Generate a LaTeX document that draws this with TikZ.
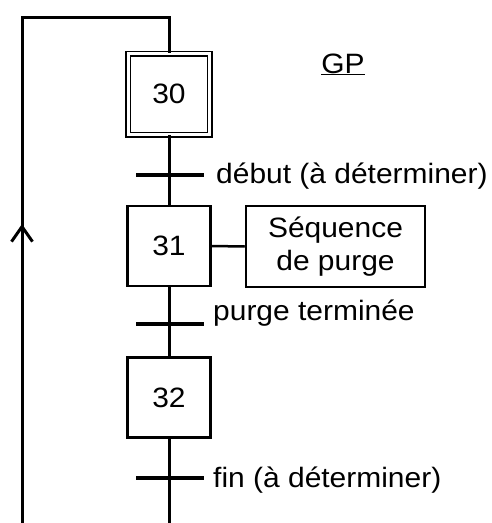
\documentclass[tikz,border=0pt]{standalone}
\usepackage{fontspec}
\setmainfont{Liberation Sans}[FakeStretch=1.07]
\usetikzlibrary{arrows.meta}
\tikzset{
  txt/.style={font=\fontsize{28}{33}\selectfont, inner sep=0pt},
  stepbox/.style={draw, line width=2.5pt, minimum width=83pt, minimum height=80pt, inner sep=0pt, font=\fontsize{28}{33}\selectfont},
  initbox/.style={draw, line width=1.5pt, double, double distance=3pt, minimum width=81.5pt, minimum height=81pt, inner sep=0pt, font=\fontsize{28}{33}\selectfont},
  link/.style={line width=3pt},
  tbar/.style={line width=4pt},
}
\begin{document}
\begin{tikzpicture}[x=1pt,y=-1pt]
\useasboundingbox (0,0) rectangle (491,523);
% steps
\node[initbox] (s30) at (169,94) {30};
\node[stepbox] (s31) at (169,246) {31};
\node[stepbox] (s32) at (169,397.5) {32};
\node[stepbox, minimum width=179pt, minimum height=81pt, align=center] (act) at (335.5,246.5) {Séquence\\de purge};
% title
\node[txt, anchor=base] (gp) at (343,73) {\underline{GP}};
% coordinates
\coordinate (topL) at (22,17);
\coordinate (topR) at (169,17);
\coordinate (botL) at (22,523);
\coordinate (botR) at (169,523);
\coordinate (arr) at (22,224);
\coordinate (t1) at (169,174.5);
\coordinate (t2) at (169,324);
\coordinate (t3) at (169,478);
% main line
\draw[link] (topR) -- (s30.north);
\draw[link] (s30.south) -- (s31.north);
\draw[link] (s31.south) -- (s32.north);
\draw[link] (s32.south) -- (botR);
\draw[line width=2.5pt] (s31.east) -- (act.west);
% loop back
\draw[link, line cap=rect] (botL) -- (topL) -- (topR);
\draw[link, -{Straight Barb[length=15pt,width=21pt,line width=3pt]}] (botL) -- (arr);
% transitions
\draw[tbar] ([xshift=-33pt]t1) -- ([xshift=35pt]t1);
\draw[tbar] ([xshift=-33pt]t2) -- ([xshift=35pt]t2);
\draw[tbar] ([xshift=-33pt]t3) -- ([xshift=35pt]t3);
% labels
\node[txt, anchor=base west] (l1) at (216,183) {début (à déterminer)};
\node[txt, anchor=base west] (l2) at (213,320) {purge terminée};
\node[txt, anchor=base west] (l3) at (213,487) {fin (à déterminer)};
\end{tikzpicture}
\end{document}
